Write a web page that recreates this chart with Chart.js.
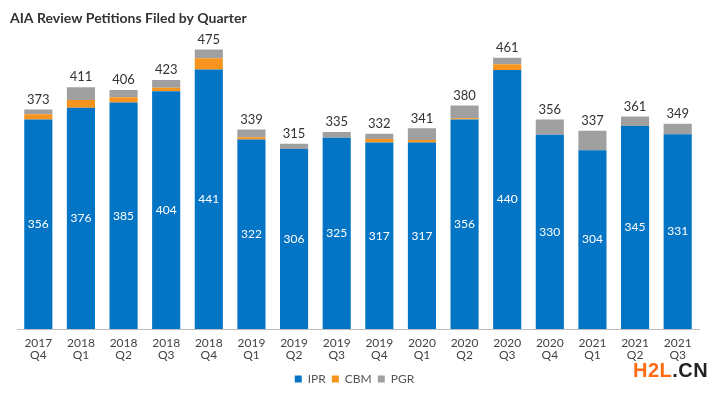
<!DOCTYPE html>
<html>
<head>
<meta charset="utf-8">
<script src="https://cdn.jsdelivr.net/npm/chart.js@4/dist/chart.umd.min.js"></script>
<style>
  html, body { margin: 0; padding: 0; background: #fff; }
  #wrap { position: relative; width: 720px; height: 395px; }
  #mark { position: absolute; left: 633px; top: 359px; font: bold 20px "Liberation Sans", Arial, sans-serif; letter-spacing: 0.5px; }
  #mark .h { color: #ff6a13; }
  #mark .c { color: #222; }
</style>
</head>
<body>
<div id="wrap">
  <canvas id="chart" width="720" height="395"></canvas>
  <div id="mark"><span class="h">H2L</span><span class="c">.CN</span></div>
</div>
<script>
const quarters = [
  ['2017', 'Q4'], ['2018', 'Q1'], ['2018', 'Q2'], ['2018', 'Q3'], ['2018', 'Q4'],
  ['2019', 'Q1'], ['2019', 'Q2'], ['2019', 'Q3'], ['2019', 'Q4'],
  ['2020', 'Q1'], ['2020', 'Q2'], ['2020', 'Q3'], ['2020', 'Q4'],
  ['2021', 'Q1'], ['2021', 'Q2'], ['2021', 'Q3']
];
const ipr = [356, 376, 385, 404, 441, 322, 306, 325, 317, 317, 356, 440, 330, 304, 345, 331];
const cbm = [9, 13, 9, 6, 19, 4, 0, 0, 6, 4, 2, 10, 0, 0, 0, 0];
const pgr = [8, 22, 12, 13, 15, 13, 9, 10, 9, 20, 22, 11, 26, 33, 16, 18];
const totals = [373, 411, 406, 423, 475, 339, 315, 335, 332, 341, 380, 461, 356, 337, 361, 349];

const FONT = 'Lato, "Open Sans", sans-serif';

// numbers inside the IPR bars and totals on top
const barLabels = {
  id: 'barLabels',
  afterDatasetsDraw(chart) {
    const ctx = chart.ctx;
    const iprBars = chart.getDatasetMeta(0).data;
    const topBars = chart.getDatasetMeta(2).data;
    ctx.save();
    ctx.textAlign = 'center';
    ctx.textBaseline = 'middle';
    ctx.font = '12px ' + FONT;
    ctx.fillStyle = '#ffffff';
    iprBars.forEach((bar, i) => {
      ctx.fillText(ipr[i], bar.x, (bar.y + bar.base) / 2);
    });
    ctx.fillStyle = '#333333';
    ctx.font = '13px ' + FONT;
    topBars.forEach((bar, i) => {
      ctx.fillText(totals[i], bar.x, bar.y - 10);
    });
    ctx.restore();
  }
};

new Chart(document.getElementById('chart'), {
  type: 'bar',
  data: {
    labels: quarters,
    datasets: [
      { label: 'IPR', data: ipr, backgroundColor: '#0474c4' },
      { label: 'CBM', data: cbm, backgroundColor: '#f7941d' },
      { label: 'PGR', data: pgr, backgroundColor: '#a0a0a0' }
    ]
  },
  options: {
    responsive: false,
    animation: false,
    layout: { padding: { left: 10, right: 21, top: 0, bottom: 0 } },
    datasets: { bar: { categoryPercentage: 1, barPercentage: 0.66 } },
    scales: {
      x: {
        stacked: true,
        grid: { display: false },
        border: { color: '#bdbdbd', width: 1 },
        ticks: { color: '#444', font: { family: FONT, size: 12, lineHeight: 1.0 }, padding: 0, maxRotation: 0 },
        afterFit(scale) { scale.height += 6; }
      },
      y: {
        stacked: true,
        min: 0,
        max: 500,
        grid: { display: false },
        border: { display: false },
        ticks: { display: false },
        afterFit(scale) { scale.width = 7; }
      }
    },
    plugins: {
      title: {
        display: true,
        text: 'AIA Review Petitions Filed by Quarter',
        align: 'start',
        color: '#333',
        font: { family: FONT, size: 14, weight: 'bold' },
        padding: { top: 10, bottom: 8 }
      },
      legend: {
        position: 'bottom',
        labels: {
          color: '#555',
          font: { family: FONT, size: 12 },
          boxWidth: 7,
          boxHeight: 7,
          padding: 6
        }
      },
      tooltip: { enabled: false }
    }
  },
  plugins: [barLabels]
});
</script>
</body>
</html>
